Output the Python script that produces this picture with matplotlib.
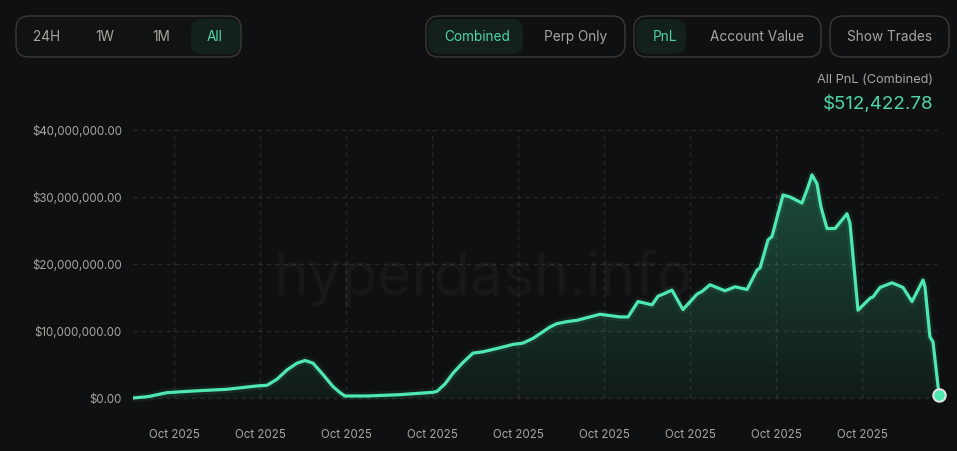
import numpy as np
import matplotlib
matplotlib.use("Agg")
import matplotlib.pyplot as plt
from matplotlib.patches import FancyBboxPatch, Polygon
from matplotlib.ticker import FuncFormatter

plt.rcParams['font.family'] = ['Inter', 'DejaVu Sans']

# ---------------- data ----------------
# time in tick-interval units (one "Oct 2025" tick per unit)
t = [0.000, 0.174, 0.395, 0.581, 0.779, 1.093, 1.442, 1.558, 1.674, 1.791, 1.907,
     2.000, 2.093, 2.209, 2.326, 2.407, 2.465, 2.721, 3.105, 3.488, 3.535, 3.628,
     3.721, 3.837, 3.953, 4.070, 4.267, 4.419, 4.535, 4.651, 4.849, 4.930, 5.047,
     5.163, 5.430, 5.663, 5.756, 5.872, 6.035, 6.105, 6.163, 6.267, 6.395, 6.558,
     6.616, 6.709, 6.884, 7.000, 7.140, 7.256, 7.291, 7.384, 7.430, 7.500, 7.558,
     7.640, 7.779, 7.849, 7.895, 7.953, 8.000, 8.070, 8.163, 8.302, 8.337, 8.430,
     8.570, 8.605, 8.686, 8.826, 8.953, 9.058, 9.186, 9.209, 9.267, 9.302, 9.372]
pnl_m = [0.0, 0.2, 0.8, 0.95, 1.1, 1.3, 1.8, 1.9, 2.8, 4.2, 5.2,
         5.6, 5.2, 3.5, 1.7, 0.8, 0.3, 0.3, 0.5, 0.85, 1.0, 2.1,
         3.7, 5.3, 6.7, 6.9, 7.5, 8.0, 8.2, 8.9, 10.6, 11.1, 11.4,
         11.6, 12.5, 12.1, 12.1, 14.4, 13.9, 15.2, 15.5, 16.1, 13.2, 15.5,
         15.9, 16.9, 16.0, 16.6, 16.2, 19.1, 19.4, 23.6, 24.1, 27.5, 30.3,
         30.0, 29.1, 31.5, 33.3, 32.0, 28.5, 25.3, 25.3, 27.5, 26.1, 13.1,
         14.9, 15.1, 16.5, 17.2, 16.5, 14.4, 17.6, 16.6, 9.1, 8.4, 0.512]
pnl = np.array(pnl_m) * 1e6
t = np.array(t)

x_ticks = [0.477, 1.477, 2.477, 3.477, 4.477, 5.477, 6.477, 7.477, 8.477]
x_labels = ["Oct 2025"] * 9
y_ticks = [0, 10e6, 20e6, 30e6, 40e6]

range_buttons = ["24H", "1W", "1M", "All"]
mode_buttons = ["Combined", "Perp Only"]
metric_buttons = ["PnL", "Account Value"]
total_label = "All PnL (Combined)"
total_value = "$512,422.78"

# ---------------- style ----------------
BG = "#0f1012"
GREEN = "#4ee8b0"
TXT_GREEN = "#4fd6a6"
GRAY = "#a9a59f"
GRID = (1, 1, 1, 0.10)
BORDER = "#3d3934"
ACTIVE_BG = "#13201d"

W, H = 957, 451
fig = plt.figure(figsize=(W / 100, H / 100), dpi=100, facecolor=BG)

def px_ax(l, t_, r, b):
    return [l / W, 1 - b / H, (r - l) / W, (b - t_) / H]

ax = fig.add_axes(px_ax(133, 120, 940, 405))
ax.set_facecolor(BG)
ymin = -(405 - 398) / 6.7 * 1e6
ymax = 40e6 + (130 - 120) / 6.7 * 1e6
ax.set_ylim(ymin, ymax)
ax.set_xlim(0, t[-1] + (940 - 939) / 86)
for s in ax.spines.values():
    s.set_visible(False)

# grid
ax.hlines(y_ticks, 0, t[-1] - 0.02, colors=[GRID], linestyles=(0, (3, 3)), linewidth=1.0, zorder=2.5)
ax.vlines(x_ticks, 0, 40e6, colors=[GRID], linestyles=(0, (3, 3)), linewidth=1.0, zorder=2.5)

# watermark
ax.text(4.07, 17.9e6, "hyperdash.info", fontsize=42.5, color="#17181a", ha="center",
        va="center", zorder=1.5)

# gradient fill
top_c = np.array([0x1b, 0x4e, 0x3c]) / 255
bot_c = np.array([0x12, 0x1b, 0x19]) / 255
n = 256
frac = np.linspace(0, 1, n)[:, None]  # 0 bottom -> 1 top
yv0, yv1 = 0, 34e6
cols = bot_c + (top_c - bot_c) * frac
img = np.repeat(cols[:, None, :], 2, axis=1)
im = ax.imshow(img, extent=[0, t[-1], yv0, yv1], origin="lower", aspect="auto", zorder=2)
verts = np.column_stack([np.r_[t[0], t, t[-1]], np.r_[0, pnl, 0]])
poly = Polygon(verts, closed=True, facecolor="none", edgecolor="none")
ax.add_patch(poly)
im.set_clip_path(poly)

# line (with a faint glow)
ax.plot(t, pnl, color=GREEN, lw=6, alpha=0.08, solid_joinstyle="round", zorder=2.8)
ax.plot(t, pnl, color=GREEN, lw=2.3, solid_joinstyle="round", solid_capstyle="round", zorder=3)
ax.plot([t[-1]], [pnl[-1]], "o", ms=9, mfc=GREEN, mec="#e6e6e6", mew=1.4, zorder=4, clip_on=False)

# ticks
ax.set_yticks(y_ticks)
ax.yaxis.set_major_formatter(FuncFormatter(lambda v, p: "${:,.2f}".format(v)))
ax.set_xticks(x_ticks)
ax.set_xticklabels(x_labels)
ax.tick_params(axis="both", length=0, colors=GRAY, labelsize=8.3)
ax.tick_params(axis="y", pad=8)
ax.tick_params(axis="x", pad=17)

# ---------------- header controls ----------------
ov = fig.add_axes([0, 0, 1, 1], facecolor="none")
ov.set_xlim(0, W)
ov.set_ylim(H, 0)
ov.axis("off")

def group(x0, x1, y0=16, y1=57, fc=BG):
    ov.add_patch(FancyBboxPatch((x0, y0), x1 - x0, y1 - y0,
                                boxstyle="round,pad=0,rounding_size=13",
                                facecolor=fc, edgecolor=BORDER, lw=1.0))

def active(x0, x1, y0=19, y1=54):
    ov.add_patch(FancyBboxPatch((x0, y0), x1 - x0, y1 - y0,
                                boxstyle="round,pad=0,rounding_size=11",
                                facecolor=ACTIVE_BG, edgecolor="none"))

def label(x, s, c=GRAY):
    ov.text(x, 37, s, color=c, fontsize=9.8, ha="center", va="center")

group(16, 241, fc="#111312")
active(191, 240)
for xc, s in zip([47, 105, 161, 215], range_buttons):
    label(xc, s, TXT_GREEN if s == "All" else GRAY)

group(426, 625)
active(428, 523)
for xc, s in zip([477, 576], mode_buttons):
    label(xc, s, TXT_GREEN if s == "Combined" else GRAY)

group(634, 821)
active(636, 686)
for xc, s in zip([665, 757], metric_buttons):
    label(xc, s, TXT_GREEN if s == "PnL" else GRAY)

group(830, 949)
label(890, "Show Trades")

ov.text(933, 80, total_label, color=GRAY, fontsize=9.2, ha="right", va="center")
ov.text(933, 104, total_value, color=TXT_GREEN, fontsize=13.5, ha="right", va="center")

fig.savefig("out.png", dpi=100, facecolor=BG)
